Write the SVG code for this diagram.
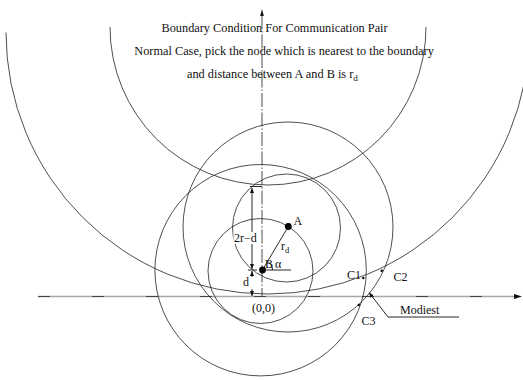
<svg xmlns="http://www.w3.org/2000/svg" width="523" height="380" viewBox="0 0 523 380">
<defs>
<style>
.c{fill:none;stroke:#222;stroke-width:0.8}
.ln{fill:none;stroke:#111;stroke-width:0.9}
.t{font-family:"Liberation Serif","Times New Roman",serif;font-size:12px;fill:#111}
.h{font-family:"Liberation Serif","Times New Roman",serif;font-size:12.3px;fill:#111}
.dot{fill:#000}
</style>
<marker id="ah" viewBox="0 0 10 10" refX="10" refY="5" markerWidth="5" markerHeight="5" markerUnits="userSpaceOnUse" orient="auto-start-reverse"><path d="M0,1 L10,5 L0,9 Z" fill="#111"/></marker>
</defs>
<rect width="523" height="380" fill="#fff"/>

<g id="axes">
<line x1="38" y1="296.5" x2="516" y2="296.5" stroke="#a8a8a8" stroke-width="1.6"/>
<line x1="38" y1="296.5" x2="516" y2="296.5" stroke="#444" stroke-width="1" stroke-dasharray="12 42"/>
<path d="M522,296.5 L514,294 L514,299 Z" fill="#111"/>
<line x1="262" y1="15" x2="262" y2="296" stroke="#222" stroke-width="0.8" stroke-dasharray="14 2 1.5 2"/>
<path d="M262,9 L260.2,16 L263.8,16 Z" fill="#111"/>
</g>

<g id="circles">
<circle id="circle-B-r" class="c" cx="260.5" cy="271" r="52.5"/>
<circle id="circle-A-r" class="c" cx="286.5" cy="228" r="54"/>
<circle id="circle-B-2r" class="c" cx="260.6" cy="270.2" r="105.7"/>
<circle id="circle-A-2r" class="c" cx="288" cy="227" r="105"/>
<path id="boundary-upper" class="c" d="M110,27 A158,158 0 0 0 426,27"/>
<path id="boundary-lower" class="c" d="M6,32.5 A261.6,261.6 0 0 0 529.2,32.5"/>
</g>

<g id="dimensions">
<line class="ln" x1="250" y1="186.5" x2="262" y2="186.5"/>
<line class="ln" x1="252" y1="188" x2="252" y2="269" marker-start="url(#ah)" marker-end="url(#ah)"/>
<line class="ln" x1="248" y1="270" x2="257" y2="270"/>
<line class="ln" x1="252" y1="271" x2="252" y2="277" marker-start="url(#ah)"/>
<line class="ln" x1="252" y1="289" x2="252" y2="296" marker-end="url(#ah)"/>
<rect x="233.5" y="232" width="25.5" height="12" fill="#fff"/>
<text class="t" x="234" y="242">2r−d</text>
<text class="t" x="243" y="286">d</text>
</g>

<g id="node-B">
<circle class="dot" cx="262.5" cy="270" r="3.4"/>
<text class="t" x="265" y="268">B</text>
</g>
<g id="node-A">
<circle class="dot" cx="288.3" cy="226.5" r="3.4"/>
<text class="t" x="293.5" y="224.5">A</text>
</g>

<g id="connectors">
<line class="ln" x1="262.5" y1="270" x2="288.3" y2="226.5"/>
<line class="ln" x1="262.5" y1="270" x2="291" y2="270"/>
<path class="ln" d="M272.5,270 A10,10 0 0 0 267.6,261.4"/>
<polyline class="ln" points="459,317 388,317 369,292.5" marker-end="url(#ah)"/>
</g>

<g id="points">
<circle class="dot" cx="363.3" cy="278" r="1.2"/>
<circle class="dot" cx="381.7" cy="270.7" r="1.2"/>
<circle class="dot" cx="358.8" cy="305" r="1.2"/>
</g>

<g id="labels">
<text class="t" x="281" y="250">r<tspan font-size="8.5" dy="3">d</tspan></text>
<text class="t" x="275" y="268">α</text>
<text class="t" x="347" y="278.5">C1</text>
<text class="t" x="393.5" y="281">C2</text>
<text class="t" x="361.5" y="325">C3</text>
<text class="t" x="400" y="314">Modiest</text>
<text class="t" x="252" y="311.5">(0,0)</text>
</g>

<g id="title">
<text class="h" x="161.5" y="31.7">Boundary Condition For Communication Pair</text>
<text class="h" x="134.3" y="55">Normal Case, pick the node which is nearest to the boundary</text>
<text class="h" x="187" y="77.5">and distance between A and B is r<tspan font-size="9" dy="3">d</tspan></text>
</g>
</svg>
